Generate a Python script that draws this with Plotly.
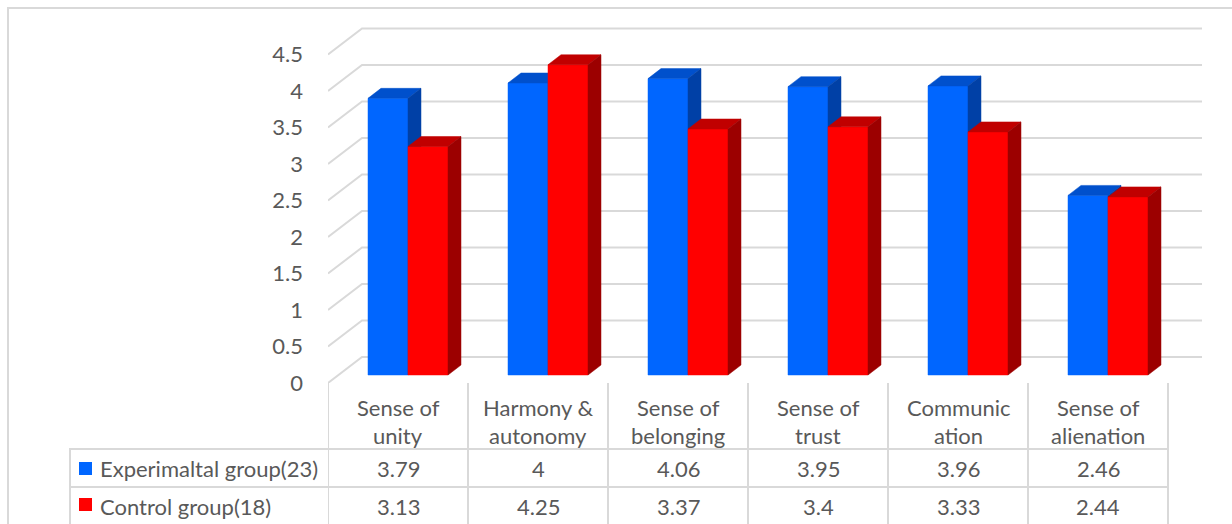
import plotly.graph_objects as go

# ---- data -------------------------------------------------------------
categories = ["Sense of<br>unity", "Harmony &<br>autonomy", "Sense of<br>belonging",
              "Sense of<br>trust", "Communic<br>ation", "Sense of<br>alienation"]
experimental = [3.79, 4, 4.06, 3.95, 3.96, 2.46]
control = [3.13, 4.25, 3.37, 3.4, 3.33, 2.44]
series_names = ["Experimaltal group(23)", "Control group(18)"]
y_ticks = [0, 0.5, 1, 1.5, 2, 2.5, 3, 3.5, 4, 4.5]

# ---- geometry (pixels) --------------------------------------------------
W, H = 1232, 524
X0, Y0 = 328, 383          # front-left corner of the floor
PX_CAT, PX_VAL = 140, 73   # pixels per category / per value unit
WALL_DX, WALL_DY = 34, 26  # depth offset of the back wall
BAR_DX, BAR_DY = 10, 8     # depth offset of the bar front faces
THICK_DX, THICK_DY = 13, 10  # visible depth of each bar
BAR_W = 40
X_END, Y_TOP = 1210, 14

FONT = "Lato"
TXT = "#595959"
GRID = "#D9D9D9"
FS = 22

colors = {
    0: ("#0066FF", "#0050CC", "#0040A6"),
    1: ("#FF0000", "#C00000", "#9C0000"),
}

# convert pixel distances into axis units
DX = WALL_DX / PX_CAT
DY = WALL_DY / PX_VAL
bdx, bdy = BAR_DX / PX_CAT, BAR_DY / PX_VAL
tdx, tdy = THICK_DX / PX_CAT, THICK_DY / PX_VAL
bw = BAR_W / PX_CAT
n = len(categories)


def px(p):
    return p / W


def py(p):
    return 1 - p / H


fig = go.Figure()

# gridlines: left wall diagonals + back wall horizontals
gx, gy = [], []
for v in y_ticks:
    gx += [0, DX, n + DX, None]
    gy += [v, v + DY, v + DY, None]
fig.add_trace(go.Scatter(x=gx, y=gy, mode="lines", line=dict(color=GRID, width=2),
                         hoverinfo="skip", showlegend=False))

# 3D columns: front, top and side faces for each bar
for i in range(n):
    for s, vals in enumerate([experimental, control]):
        v = vals[i]
        front_c, top_c, side_c = colors[s]
        xl = i + 0.5 + bdx - bw + s * bw
        xr = xl + bw
        b = bdy
        faces = [
            ([xl, xr, xr, xl, xl], [b, b, b + v, b + v, b], front_c),
            ([xl, xr, xr + tdx, xl + tdx, xl], [b + v, b + v, b + v + tdy, b + v + tdy, b + v], top_c),
            ([xr, xr + tdx, xr + tdx, xr, xr], [b, b + tdy, b + v + tdy, b + v, b], side_c),
        ]
        for fx, fy, c in faces:
            fig.add_trace(go.Scatter(x=fx, y=fy, mode="lines", fill="toself",
                                     fillcolor=c, line=dict(color=c, width=0.5),
                                     hoverinfo="skip", showlegend=False))

# ---- data table below the plot -----------------------------------------
shapes = []
line = dict(color=GRID, width=2)
# outer chart border
shapes.append(dict(type="rect", xref="paper", yref="paper", x0=px(8), y0=py(H + 10),
                   x1=px(W + 10), y1=py(8), line=line))
# vertical lines at category boundaries
for i in range(n + 1):
    shapes.append(dict(type="line", xref="x", yref="paper", x0=i, x1=i,
                       y0=py(Y0), y1=py(H + 5), line=line))
shapes.append(dict(type="line", xref="paper", yref="paper", x0=px(70), x1=px(70),
                   y0=py(449), y1=py(H + 5), line=line))
# horizontal row lines
for yy in (449, 487):
    shapes.append(dict(type="line", xref="paper", yref="paper", x0=px(69), x1=px(X0),
                       y0=py(yy), y1=py(yy), line=line))
    shapes.append(dict(type="line", xref="x", yref="paper", x0=0, x1=n,
                       y0=py(yy), y1=py(yy), line=line))

annotations = []
for i, cat in enumerate(categories):
    for k, part in enumerate(cat.split("<br>")):
        annotations.append(dict(x=i + 0.5, y=py(407 + 28 * k), xref="x", yref="paper",
                                text=part, showarrow=False, xanchor="center", yanchor="middle",
                                font=dict(family=FONT, size=FS, color=TXT)))

row_y = [468, 506]
for s, (name, vals) in enumerate(zip(series_names, [experimental, control])):
    key_top = 462 if s == 0 else 498
    shapes.append(dict(type="rect", xref="paper", yref="paper",
                       x0=px(79), x1=px(92), y0=py(key_top + 13), y1=py(key_top),
                       fillcolor=colors[s][0], line=dict(width=0)))
    annotations.append(dict(x=px(98), y=py(row_y[s]), xref="paper", yref="paper", text=name,
                            showarrow=False, xanchor="left", yanchor="middle",
                            font=dict(family=FONT, size=FS, color=TXT)))
    for i, v in enumerate(vals):
        annotations.append(dict(x=i + 0.5, y=py(row_y[s]), xref="x", yref="paper",
                                text=f"{v:g}", showarrow=False, xanchor="center",
                                yanchor="middle", font=dict(family=FONT, size=FS, color=TXT)))

fig.update_layout(
    width=W, height=H, autosize=False,
    margin=dict(l=0, r=0, t=0, b=0, pad=0),
    paper_bgcolor="white", plot_bgcolor="rgba(0,0,0,0)",
    showlegend=False,
    xaxis=dict(domain=[px(X0), px(X_END)], range=[0, (X_END - X0) / PX_CAT],
               showgrid=False, zeroline=False, showline=False, showticklabels=False,
               fixedrange=True, automargin=False),
    yaxis=dict(domain=[py(Y0), py(Y_TOP)], range=[0, (Y0 - Y_TOP) / PX_VAL],
               tickvals=y_ticks, ticktext=[f"{t:g}" for t in y_ticks],
               showgrid=False, zeroline=False, showline=False, ticks="",
               ticklabelstandoff=24, automargin=False,
               tickfont=dict(family=FONT, size=FS, color=TXT), fixedrange=True),
    shapes=shapes,
    annotations=annotations,
)

fig.write_html("out.html", config={"responsive": False})
